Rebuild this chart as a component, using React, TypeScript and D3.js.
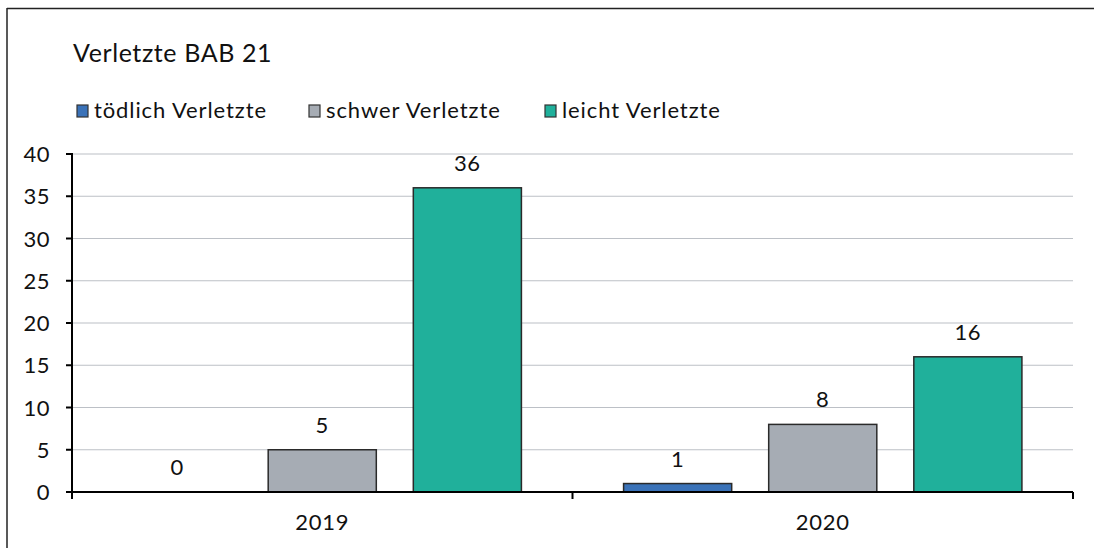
import React from "react";
import * as d3 from "d3";

const years = ["2019", "2020"];
const seriesNames = ["tödlich Verletzte", "schwer Verletzte", "leicht Verletzte"];
const seriesColors = ["#3a72b8", "#a6acb4", "#20b09b"];
const toedlich = [0, 1];
const schwer = [5, 8];
const leicht = [36, 16];
const yTicks = [0, 5, 10, 15, 20, 25, 30, 35, 40];

const FONT = "Lato, 'Noto Sans', sans-serif";

const App = () => {
  const width = 1094;
  const height = 548;
  const left = 72;
  const right = 1073;
  const top = 154;
  const bottom = 492;

  const values = [toedlich, schwer, leicht];

  const y = d3.scaleLinear().domain([0, 40]).range([bottom, top]);
  const x0 = d3.scaleBand().domain(years).range([left, right]).padding(0);
  const x1 = d3
    .scaleBand()
    .domain(seriesNames)
    .range([0, x0.bandwidth()])
    .paddingInner(0.255)
    .paddingOuter(0.352);

  const legendX = [77, 309, 545];

  return (
    <svg
      width={width}
      height={height}
      style={{ position: "absolute", left: 0, top: 0, background: "#fff" }}
    >
      {/* frame */}
      <line x1={7} y1={8.5} x2={width} y2={8.5} stroke="#222" strokeWidth={1.5} />
      <line x1={7} y1={8} x2={7} y2={height} stroke="#222" strokeWidth={1.5} />

      <text x={73} y={62} fontFamily={FONT} fontSize={25} letterSpacing={0.6} fill="#111">
        Verletzte BAB 21
      </text>

      {/* legend */}
      {seriesNames.map((name, i) => (
        <g key={name}>
          <rect
            x={legendX[i]}
            y={105}
            width={11}
            height={12}
            fill={seriesColors[i]}
            stroke="#333"
            strokeWidth={1.2}
          />
          <text
            x={legendX[i] + 17}
            y={118}
            fontFamily={FONT}
            fontSize={22}
            letterSpacing={0.9}
            fill="#111"
          >
            {name}
          </text>
        </g>
      ))}

      {/* grid */}
      {yTicks
        .filter((t) => t > 0)
        .map((t) => (
          <line
            key={t}
            x1={left}
            x2={right}
            y1={y(t)}
            y2={y(t)}
            stroke="#bcc0c6"
            strokeWidth={1.2}
          />
        ))}

      {/* bars */}
      {years.map((yr, gi) => (
        <g key={yr} transform={`translate(${x0(yr)},0)`}>
          {seriesNames.map((name, si) => {
            const v = values[si][gi];
            const bx = x1(name)!;
            const bw = x1.bandwidth();
            return (
              <g key={name}>
                {v > 0 && (
                  <rect
                    x={bx}
                    y={y(v)}
                    width={bw}
                    height={y(0) - y(v)}
                    fill={seriesColors[si]}
                    stroke="#2a2a2a"
                    strokeWidth={1.5}
                  />
                )}
                <text
                  x={bx + bw / 2}
                  y={y(v) - 17}
                  textAnchor="middle"
                  fontFamily={FONT}
                  fontSize={22}
                  letterSpacing={0.5}
                  fill="#111"
                >
                  {v}
                </text>
              </g>
            );
          })}
        </g>
      ))}

      {/* y axis */}
      <line x1={left} x2={left} y1={top - 1} y2={bottom} stroke="#000" strokeWidth={2} />
      {yTicks.map((t) => (
        <g key={t}>
          <line x1={left - 6} x2={left} y1={y(t)} y2={y(t)} stroke="#000" strokeWidth={2} />
          <text
            x={50}
            y={y(t) + 8}
            textAnchor="end"
            fontFamily={FONT}
            fontSize={22}
            letterSpacing={0.5}
            fill="#111"
          >
            {t}
          </text>
        </g>
      ))}

      {/* x axis */}
      <line x1={left} x2={right} y1={bottom} y2={bottom} stroke="#000" strokeWidth={2} />
      {[left, ...years.map((yr) => x0(yr)! + x0.bandwidth())].map((tx, i) => (
        <line key={i} x1={tx} x2={tx} y1={bottom} y2={bottom + 7} stroke="#000" strokeWidth={2} />
      ))}
      {years.map((yr) => (
        <text
          key={yr}
          x={x0(yr)! + x0.bandwidth() / 2}
          y={530}
          textAnchor="middle"
          fontFamily={FONT}
          fontSize={22}
          letterSpacing={0.8}
          fill="#111"
        >
          {yr}
        </text>
      ))}
    </svg>
  );
};

export default App;
